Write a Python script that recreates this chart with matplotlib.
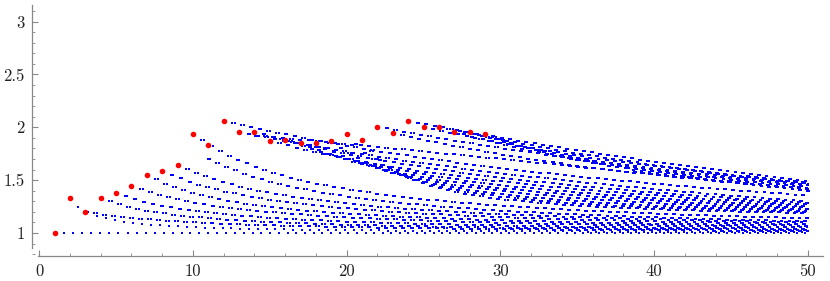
import numpy as np
import matplotlib
matplotlib.use("Agg")
import matplotlib.pyplot as plt
from matplotlib.ticker import MultipleLocator, FixedLocator

plt.rcParams['font.family'] = ['cmr10', 'DejaVu Serif']
plt.rcParams['axes.formatter.use_mathtext'] = True

# red points: one per integer n
red_x = list(range(1, 30))
red_y = [1.0, 1.333, 1.2, 1.333, 1.378, 1.448, 1.549, 1.587, 1.646, 1.937,
         1.83, 2.062, 1.956, 1.956, 1.873, 1.88, 1.849, 1.854, 1.868, 1.937,
         1.88, 2.006, 1.946, 2.06, 2.003, 2.006, 1.956, 1.956, 1.934]

# blue families: start point, one middle point, value at x=50
fam_x0 = [1.0, 2, 3, 4, 5, 6, 7, 8, 9, 10.4, 10, 12,
          13, 14, 15, 16, 17, 18, 19, 20, 21,
          13.5, 22, 23, 24, 25, 26, 27, 28, 29]
fam_y0 = [1.0, 1.333, 1.2, 1.333, 1.378, 1.448, 1.549, 1.587, 1.646, 1.75, 1.937, 2.062,
          1.956, 1.956, 1.873, 1.88, 1.849, 1.854, 1.868, 1.937, 1.88,
          1.93, 2.006, 1.946, 2.06, 2.003, 2.006, 1.956, 1.956, 1.934]
fam_xm = [12.6, 12.6, 12.6, 12.6, 12.6, 12.6, 12.6, 12.6, 12.6, 25, 26.7, 26.7,
          27, 27, 27, 27, 27, 27, 27, 27, 27,
          30, 40, 40, 40, 40, 40, 40, 40, 40]
fam_ym = [1.0, 1.044, 1.085, 1.123, 1.17, 1.233, 1.296, 1.375, 1.454, 1.265, 1.296, 1.675,
          1.62, 1.58, 1.54, 1.51, 1.48, 1.455, 1.43, 1.41, 1.39,
          1.70, 1.61, 1.55, 1.675, 1.63, 1.645, 1.585, 1.60, 1.57]
fam_ye = [1.0, 1.01, 1.02, 1.03, 1.04, 1.055, 1.07, 1.085, 1.10, 1.11, 1.14, 1.356,
          1.30, 1.285, 1.27, 1.255, 1.24, 1.225, 1.21, 1.20, 1.19,
          1.40, 1.46, 1.42, 1.49, 1.47, 1.475, 1.435, 1.455, 1.425]
fam_pair = [0, 0, 1, 1, 1, 1, 1, 1, 1, 1, 1, 1,
            1, 1, 1, 1, 1, 1, 1, 1, 1,
            1, 1, 1, 1, 1, 1, 1, 1, 1]


def family(x0, y0, xm, ym, ye):
    # y = a + b/(x - c) through the three read points
    x1, x2, x3 = x0, xm, 50.0
    y1, y2, y3 = y0, ym, ye
    if abs(y1 - y3) < 1e-9:
        return lambda x: np.full_like(x, y1)
    R = (y1 - y2) / (y2 - y3)
    c = ((x2 - x1) * x3 - R * (x3 - x2) * x1) / ((x2 - x1) - R * (x3 - x2))
    b = (y1 - y2) * (x1 - c) * (x2 - c) / (x2 - x1)
    a = y1 - b / (x1 - c)
    return lambda x: a + b / (x - c)


def positions(x0, first):
    # dot spacing about 0.6 at the left, 0.5 at the right
    xs = [x0 + first]
    while xs[-1] + 0.6 - 0.002 * xs[-1] <= 50.0:
        xs.append(xs[-1] + 0.6 - 0.002 * xs[-1])
    return np.array(xs)


bx, by = [], []
for i, (x0, y0, xm, ym, ye, pr) in enumerate(
        zip(fam_x0, fam_y0, fam_xm, fam_ym, fam_ye, fam_pair)):
    f = family(x0, y0, xm, ym, ye)
    first = 0.59 if i == 0 else 0.55
    xs = positions(x0, first)
    ys = f(xs)
    bx.extend(xs)
    by.extend(ys)
    if pr:
        x2 = xs + 0.19 - 0.0018 * xs
        keep = x2 <= 50.05
        bx.extend(x2[keep])
        by.extend(ys[keep])

fig = plt.figure(figsize=(8.3, 2.81), dpi=100)
ax = fig.add_axes([0.0382, 0.0879, 0.9536, 0.8954])

ax.scatter(bx, by, s=1.6, marker='s', color='#0000ff', linewidths=0, zorder=2)
ax.scatter(red_x, red_y, s=16, color='#ff0000', linewidths=0, zorder=3)

ax.set_xlim(-0.49, 51.0)
ax.set_ylim(0.78, 3.16)

for s in ['top', 'right']:
    ax.spines[s].set_visible(False)
for s in ['left', 'bottom']:
    ax.spines[s].set_color('#888888')
    ax.spines[s].set_linewidth(0.9)
ax.spines['left'].set_bounds(0.86, 3.16)
ax.spines['bottom'].set_bounds(-0.05, 51.0)

ax.xaxis.set_major_locator(FixedLocator([0, 10, 20, 30, 40, 50]))
ax.xaxis.set_minor_locator(MultipleLocator(2))
ax.yaxis.set_major_locator(FixedLocator([1, 1.5, 2, 2.5, 3]))
ax.yaxis.set_minor_locator(MultipleLocator(0.1))
ax.set_xticklabels(['0', '10', '20', '30', '40', '50'])
ax.set_yticklabels(['1', '1.5', '2', '2.5', '3'])

ax.tick_params(which='major', direction='in', length=4, width=0.8,
               color='#888888', labelsize=12, pad=5, labelcolor='#222222')
ax.tick_params(which='minor', direction='in', length=2.2, width=0.6, color='#888888')

fig.savefig('out.png', dpi=100)
